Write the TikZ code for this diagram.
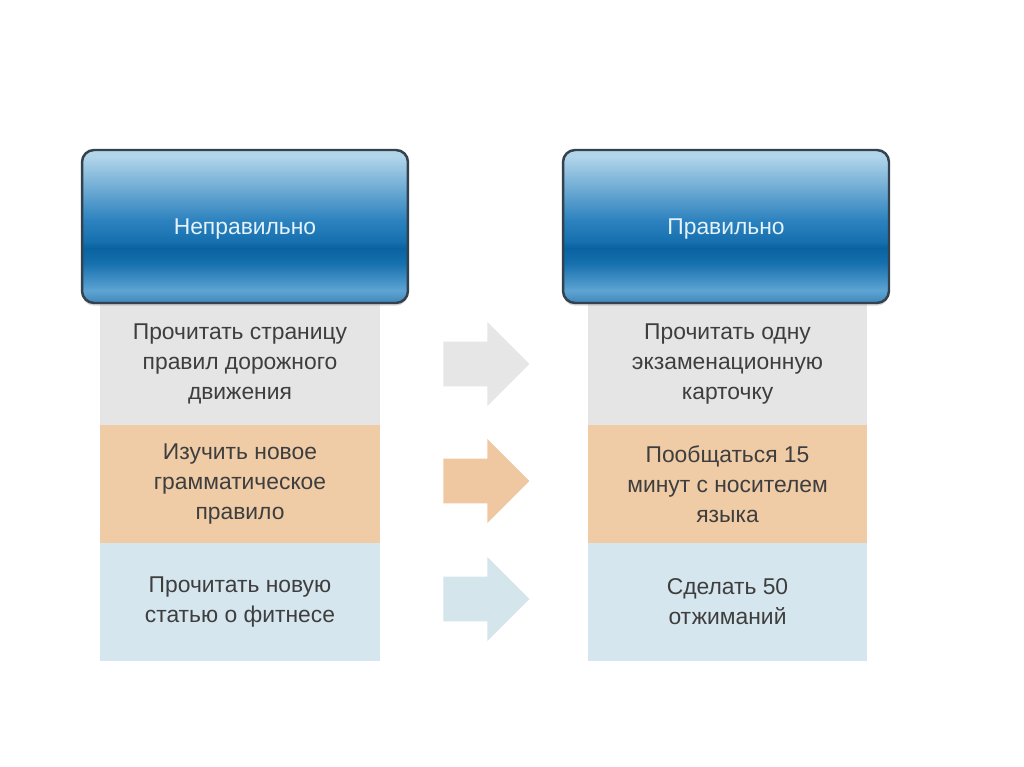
\documentclass[tikz,border=0pt]{standalone}
\usepackage{fontspec}
\setmainfont{Liberation Sans}
\usepackage{xcolor}
\usepackage{tikz}
\usetikzlibrary{positioning,shapes.arrows,shadows}
\definecolor{hdrtop}{HTML}{B2D5EA}
\definecolor{hdrmain}{HTML}{2C82BE}
\definecolor{hdrband}{HTML}{0A62A0}
\definecolor{hdrdeep}{HTML}{1670AE}
\definecolor{hdrpale}{HTML}{5EA4D3}
\definecolor{hdrlow}{HTML}{3F85B8}
\definecolor{hdredge}{HTML}{34414E}
\definecolor{hdrtext}{HTML}{E4F2FC}
\definecolor{ink}{HTML}{3E3E3E}
\definecolor{cgray}{HTML}{E5E5E5}
\definecolor{corange}{HTML}{EFCBA6}
\definecolor{cblue}{HTML}{D6E6EF}
\definecolor{agray}{HTML}{E6E6E6}
\definecolor{aorange}{HTML}{EFC8A1}
\definecolor{ablue}{HTML}{D5E5EC}
\pgfdeclareverticalshading{hdrglass}{100bp}{color(0bp)=(hdrlow); color(25bp)=(hdrlow);
  color(29bp)=(hdrpale); color(38bp)=(hdrdeep); color(43bp)=(hdrband); color(45bp)=(hdrdeep);
  color(52bp)=(hdrmain); color(73bp)=(hdrtop); color(100bp)=(hdrtop)}
\tikzset{
  hdr/.style     ={rounded corners=0.24cm, draw=hdredge, line width=1.4pt, shading=hdrglass,
                   minimum width=6.52cm, minimum height=3.06cm, text=hdrtext, text depth=0pt,
                   font=\fontsize{13}{17}\selectfont, drop shadow={opacity=0.3,shadow xshift=0pt,shadow yshift=-1.5pt}},
  cell/.style    ={fill=#1, text=ink, align=center, outer sep=0pt, inner sep=0pt,
                   minimum width=5.6cm, minimum height=2.36cm, font=\fontsize{13}{17}\selectfont},
  movearr/.style ={single arrow, fill=#1, anchor=tail, minimum height=1.72cm, inner sep=0.44cm,
                   single arrow head extend=0.39cm, single arrow head indent=0pt},
}
\begin{document}
\begin{tikzpicture}[x=0.02cm,y=0.02cm]
\useasboundingbox[fill=white] (0,0) rectangle (1024,-767);
% left column
\node[cell=cgray, minimum height=2.44cm] (w1) at (240,-364) {Прочитать страницу\\правил дорожного\\движения};
\node[cell=corange, below=0cm of w1] (w2) {Изучить новое\\грамматическое\\правило};
\node[cell=cblue, below=0cm of w2] (w3) {Прочитать новую\\статью о фитнесе};
% right column
\node[cell=cgray, minimum height=2.44cm] (r1) at (727.5,-364) {Прочитать одну\\экзаменационную\\карточку};
\node[cell=corange, below=0cm of r1] (r2) {Пообщаться 15\\минут с носителем\\языка};
\node[cell=cblue, below=0cm of r2] (r3) {Сделать 50\\отжиманий};
% headers
\node[hdr] (wrong) at (245,-226.5) {Неправильно};
\node[hdr] (right) at (726,-226.5) {Правильно};
% arrows
\node[movearr=agray] (a1) at (443,-364) {};
\node[movearr=aorange] (a2) at (443,-481) {};
\node[movearr=ablue] (a3) at (443,-599) {};
\end{tikzpicture}
\end{document}
